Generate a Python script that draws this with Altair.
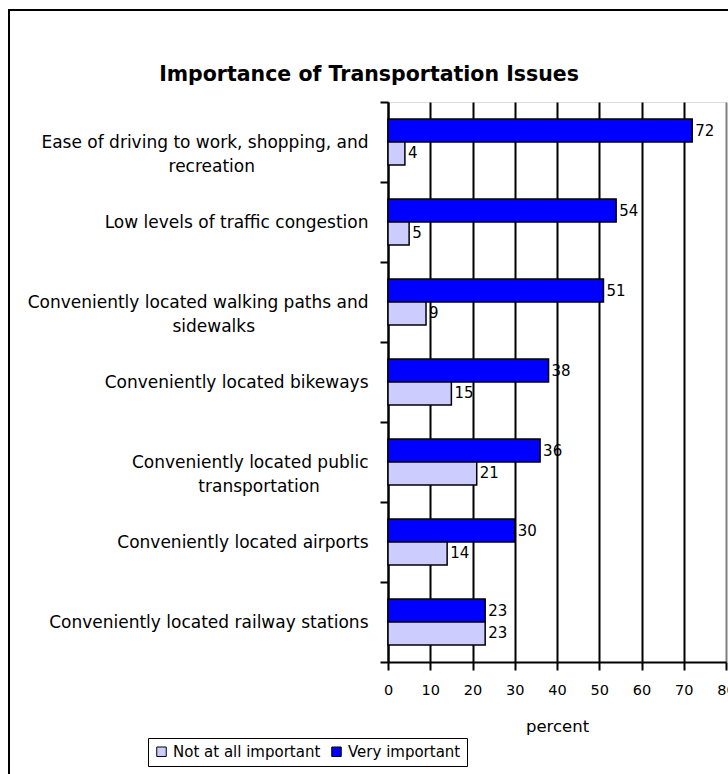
import altair as alt
import pandas as pd

categories = [
    "Ease of driving to work, shopping, and\nrecreation",
    "Low levels of traffic congestion",
    "Conveniently located walking paths and\nsidewalks",
    "Conveniently located bikeways",
    "Conveniently located public\ntransportation",
    "Conveniently located airports",
    "Conveniently located railway stations",
]
very_important = [72, 54, 51, 38, 36, 30, 23]
not_important = [4, 5, 9, 15, 21, 14, 23]
series = ["Not at all important", "Very important"]
series_colors = ["#CCCCFF", "#0000FF"]
x_ticks = [0, 10, 20, 30, 40, 50, 60, 70, 80]

rows = []
for c, v, n in zip(categories, very_important, not_important):
    rows.append({"issue": c, "series": "Very important", "value": v})
    rows.append({"issue": c, "series": "Not at all important", "value": n})
df = pd.DataFrame(rows)

FONT = "DejaVu Sans"
offset_order = ["Very important", "Not at all important"]

# split wrapped labels into lines; pad the second line on the right with
# non-breaking spaces (closed by a zero-width space so they are not trimmed)
# so that it sits roughly centred under the first line
L = "split(datum.label, '\\n')"
NBSP = "\u00a0"
ZWSP = "\u200b"
label_expr = (
    f"length({L}) > 1 ? [{L}[0], {L}[1] + pad('', floor(0.75 * (length({L}[0]) - length({L}[1]))), '{NBSP}') + '{ZWSP}'] : datum.label"
)

y_enc = alt.Y(
    "issue:N",
    sort=categories,
    scale=alt.Scale(paddingInner=0, paddingOuter=0),
    axis=alt.Axis(
        title=None,
        tickBand="extent",
        labelExpr=label_expr,
        labelLineHeight=24,
        labelFont=FONT,
        labelFontSize=17,
        labelColor="black",
        labelPadding=12,
        labelLimit=400,
        tickSize=8,
        tickColor="black",
        tickWidth=2,
        domainColor="black",
        domainWidth=2,
        grid=False,
    ),
)
yoff = alt.YOffset(
    "series:N",
    sort=offset_order,
    scale=alt.Scale(paddingInner=0, paddingOuter=0.74),
)
x_enc = alt.X(
    "value:Q",
    scale=alt.Scale(domain=[0, 80], nice=False, zero=True),
    axis=alt.Axis(
        values=x_ticks,
        title="percent",
        titleFont=FONT,
        titleFontSize=16.5,
        titleFontWeight="normal",
        titleColor="black",
        titlePadding=22,
        labelFont=FONT,
        labelFontSize=14.5,
        labelColor="black",
        labelPadding=13,
        labelFlush=False,
        labelOverlap=False,
        tickSize=8,
        tickColor="black",
        tickWidth=2,
        domainColor="black",
        domainWidth=2,
        grid=True,
        gridColor=alt.condition("datum.value == 80", alt.value("#808080"), alt.value("black")),
        gridWidth=2,
        gridOpacity=1,
    ),
)

frame = alt.Chart(pd.DataFrame({"a": [0]})).mark_rect(
    fillOpacity=0, stroke="black", strokeWidth=2
).encode(
    x=alt.value(-379), x2=alt.value(345), y=alt.value(-92), y2=alt.value(690)
)

bars = alt.Chart(df).mark_bar(stroke="black", strokeWidth=1.5).encode(
    y=y_enc,
    yOffset=yoff,
    x=x_enc,
    color=alt.Color(
        "series:N",
        scale=alt.Scale(domain=series, range=series_colors),
        legend=alt.Legend(
            title=None,
            orient="none",
            legendX=-240,
            legendY=636,
            direction="horizontal",
            symbolType="square",
            symbolSize=90,
            symbolStrokeColor="black",
            symbolStrokeWidth=1,
            labelFont=FONT,
            labelFontSize=15,
            labelColor="black",
            labelOffset=4,
            columnPadding=8,
            padding=6,
            strokeColor="black",
            fillColor="white",
        ),
    ),
)

labels = alt.Chart(df).mark_text(
    align="left", baseline="middle", dx=3, font=FONT, fontSize=15, color="black"
).encode(
    y=alt.Y("issue:N", sort=categories),
    yOffset=alt.YOffset("series:N", sort=offset_order),
    x=alt.X("value:Q"),
    text=alt.Text("value:Q"),
)

chart = alt.layer(frame, bars, labels).properties(
    width=338,
    height=560,
    padding={"left": 388, "top": 102, "right": 2, "bottom": 112},
    autosize=alt.AutoSizeParams(type="none"),
    title=alt.TitleParams(
        "Importance of Transportation Issues",
        font=FONT,
        fontSize=20.5,
        fontWeight="bold",
        color="black",
        anchor="middle",
        frame="group",
        dx=-188,
        offset=-76,
    ),
).configure_view(stroke="#808080", strokeWidth=2).configure(background="white")

chart.save("out.html", embed_options={"renderer": "svg", "actions": False})
